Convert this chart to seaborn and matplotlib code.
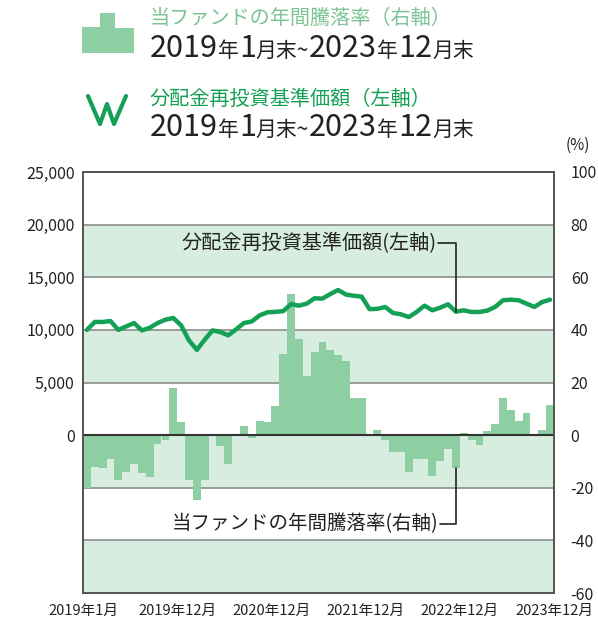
import matplotlib
matplotlib.use('Agg')
import matplotlib.pyplot as plt
from matplotlib.patches import Polygon
from matplotlib.lines import Line2D
import numpy as np
import pandas as pd
import seaborn as sns

sns.set_style('white')
plt.rcParams['font.family'] = ['Noto Sans CJK JP', 'DejaVu Sans']

# 当ファンドの年間騰落率(%), 2019年1月末～2023年12月末
ret = [-20, -12, -12.5, -9, -17, -14, -11, -14.5, -16, -3.5, -2, 18,
       5, -17, -24.5, -17, 0, -4.3, -11, 0, 3.3, -1.2, 5.2, 5,
       11, 31, 53.5, 36.7, 22.5, 31.6, 35.5, 32.3, 30.6, 28, 14, 14,
       0, 2, -1.8, -6.5, -6.5, -14.2, -9, -9, -15.4, -10, -5.3, -12.5,
       0.8, -1.8, -3.6, 1.5, 4.2, 14, 9.6, 5.2, 8.4, 0, 2.1, 11.5]
# 分配金再投資基準価額(円)
nav = [10000, 10750, 10750, 10840, 10000, 10330, 10650, 9950, 10200, 10650, 10970, 11130,
       10430, 9000, 8100, 9060, 9950, 9790, 9480, 10050, 10650, 10800, 11380, 11670,
       11710, 11780, 12450, 12300, 12490, 13000, 12970, 13400, 13790, 13360, 13240, 13160,
       11970, 12000, 12175, 11600, 11480, 11220, 11700, 12300, 11860, 12110, 12430, 11730,
       11860, 11700, 11700, 11830, 12180, 12810, 12870, 12810, 12490, 12180, 12650, 12870]
xlabels = ['2019年1月', '2019年12月', '2020年12月', '2021年12月', '2022年12月', '2023年12月']
left_ticks = [0, 5000, 10000, 15000, 20000, 25000]
right_ticks = [100, 80, 60, 40, 20, 0, -20, -40, -60]

df = pd.DataFrame({'m': np.arange(len(ret)), 'ret': ret, 'nav': nav})

BAR = '#8dcfa3'
BAND = '#d6ede0'
LINE = '#14a055'
GRID = '#8c8c8c'
TXT = '#222222'

W, H = 598, 624
fig = plt.figure(figsize=(W / 100, H / 100), dpi=100)


def fx(x):
    return x / W


def fy(y):
    return 1 - y / H


ax = fig.add_axes([fx(83), fy(593), fx(554) - fx(83), fy(172) - fy(593)])
ax2 = ax.twinx()

# bands and grid on the % axis
for lo in [60, 20, -20, -60]:
    ax2.axhspan(lo, lo + 20, color=BAND, lw=0, zorder=0)
for g in [80, 60, 40, 20, -20, -40]:
    ax2.axhline(g, color=GRID, lw=1.2, zorder=1)

sns.barplot(data=df, x='m', y='ret', ax=ax2, color=BAR, width=1.0,
            saturation=1, linewidth=0, zorder=2)
ax2.axhline(0, color='#333333', lw=1.5, zorder=4)

sns.lineplot(data=df, x='m', y='nav', ax=ax, color=LINE, lw=3.2, zorder=5)

ax.set_zorder(ax2.get_zorder() + 1)
ax.patch.set_visible(False)

ax.set_xlim(-0.5, len(ret) - 0.5)
ax2.set_xlim(-0.5, len(ret) - 0.5)
ax.set_ylim(-15000, 25000)
ax2.set_ylim(-60, 100)

ax.set_yticks(left_ticks)
ax.set_yticklabels(['{:,}'.format(v) for v in left_ticks])
ax2.set_yticks(right_ticks)
ax2.set_yticklabels([str(v) for v in right_ticks])
ax.set_xticks([-0.5, 11.5, 23.5, 35.5, 47.5, 59.5])
ax.set_xticklabels(xlabels)
ax.set_xlabel('')
ax.set_ylabel('')
ax2.set_xlabel('')
ax2.set_ylabel('')

ax.tick_params(axis='y', length=0, pad=6, labelsize=11.5, labelcolor=TXT)
ax2.tick_params(axis='y', length=0, pad=12, labelsize=11.5, labelcolor=TXT)
ax.tick_params(axis='x', direction='in', length=14, width=1.3, color='#444444',
               pad=8, labelsize=10.5, labelcolor=TXT)
for a in (ax, ax2):
    for s in a.spines.values():
        s.set_color('#555555')
        s.set_linewidth(1.3)

fig.text(fx(578), fy(145), '(%)', fontsize=11, color=TXT, ha='center', va='center')

# in-chart labels with leader lines
ax.text(44.6, 18240, '分配金再投資基準価額(左軸)', fontsize=14.5, color=TXT,
        ha='right', va='center', zorder=6)
ax.plot([44.75, 47, 47], [18240, 18240, nav[47]], color=TXT, lw=1.2, zorder=6)
ax2.text(44.8, -33.7, '当ファンドの年間騰落率(右軸)', fontsize=14, color=TXT,
         ha='right', va='center', zorder=6)
ax2.plot([44.95, 47, 47], [-33.7, -33.7, ret[47]], color=TXT, lw=1.2, zorder=6)

# header legend
fig.patches.append(Polygon([(fx(82), fy(53)), (fx(82), fy(27)), (fx(100), fy(27)),
                            (fx(100), fy(13)), (fx(115), fy(13)), (fx(115), fy(28)),
                            (fx(134), fy(28)), (fx(134), fy(53))],
                           closed=True, transform=fig.transFigure, color=BAR, lw=0))
fig.lines.append(Line2D([fx(88), fx(100), fx(107), fx(114), fx(126)],
                        [fy(96), fy(124), fy(104), fy(124), fy(96)],
                        transform=fig.transFigure, color=LINE, lw=3))

renderer = fig.canvas.get_renderer()


def rich(parts, x, y, color):
    for s, size in parts:
        t = fig.text(x, y, s, fontsize=size, color=color, ha='left', va='baseline')
        bb = t.get_window_extent(renderer=renderer)
        x += bb.width / fig.bbox.width


period = [('2019', 22), ('年', 15), ('1', 22), ('月末~', 15),
          ('2023', 22), ('年', 15), ('12', 22), ('月末', 15)]
fig.text(fx(150), fy(24), '当ファンドの年間騰落率（右軸）', fontsize=14.5, color='#7cc496',
         ha='left', va='baseline')
rich(period, fx(150), fy(57), TXT)
fig.text(fx(150), fy(105), '分配金再投資基準価額（左軸）', fontsize=14.5, color=LINE,
         ha='left', va='baseline')
rich(period, fx(150), fy(136), TXT)

fig.savefig('out.png', dpi=100)
